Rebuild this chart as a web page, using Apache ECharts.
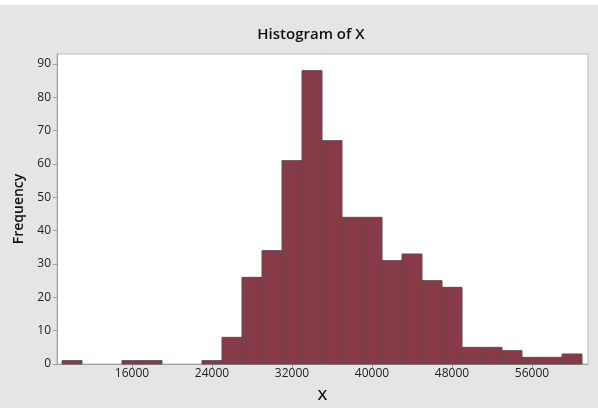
<!DOCTYPE html>
<html>
<head>
<meta charset="utf-8">
<script src="https://cdn.jsdelivr.net/npm/echarts@6/dist/echarts.min.js"></script>
<style>
html,body{margin:0;padding:0;background:#e5e5e5;}
#c{width:598px;height:408px;}
</style>
</head>
<body>
<div id="c"></div>
<script>
// Histogram bins (centres, width 2000) and counts
const binCenters = [10000, 12000, 14000, 16000, 18000, 20000, 22000, 24000, 26000, 28000, 30000, 32000, 34000, 36000, 38000, 40000, 42000, 44000, 46000, 48000, 50000, 52000, 54000, 56000, 58000, 60000];
const counts     = [1, 0, 0, 1, 1, 0, 0, 1, 8, 26, 34, 61, 88, 67, 44, 44, 31, 33, 25, 23, 5, 5, 4, 2, 2, 3];
const binWidth = 2000;
const xTickLabels = [16000, 24000, 32000, 40000, 48000, 56000];
const yTickLabels = [0, 10, 20, 30, 40, 50, 60, 70, 80, 90];

const data = binCenters.map((c, i) => [c - binWidth / 2, c + binWidth / 2, counts[i]]);

const chart = echarts.init(document.getElementById('c'));
const font = '"Open Sans", "Noto Sans", sans-serif';
chart.setOption({
  backgroundColor: '#e5e5e5',
  animation: false,
  title: {
    text: 'Histogram of X',
    left: 306, top: 22, textAlign: 'center',
    textStyle: {fontFamily: font, fontSize: 15, fontWeight: 600, color: '#111'}
  },
  grid: {
    left: 57, top: 54, right: 10, bottom: 44,
    show: true, backgroundColor: '#ffffff', borderColor: '#bdbdbd', borderWidth: 1
  },
  xAxis: {
    type: 'value', min: 8500, max: 61600,
    name: 'X', nameLocation: 'middle', nameGap: 24,
    nameTextStyle: {fontFamily: font, fontSize: 15, fontWeight: 600, color: '#111'},
    axisLine: {show: true, lineStyle: {color: '#a0a0a0'}},
    axisTick: {show: true, length: 4, customValues: xTickLabels, lineStyle: {color: '#a0a0a0'}},
    axisLabel: {customValues: xTickLabels, formatter: v => String(v), fontFamily: font, fontSize: 12, color: '#222', margin: 4},
    splitLine: {show: false}
  },
  yAxis: {
    type: 'value', min: 0, max: 93,
    name: 'Frequency', nameLocation: 'middle', nameGap: 31, nameRotate: 90,
    nameTextStyle: {fontFamily: font, fontSize: 14, fontWeight: 600, color: '#111'},
    axisLine: {show: true, lineStyle: {color: '#a0a0a0'}},
    axisTick: {show: true, length: 4, customValues: yTickLabels, lineStyle: {color: '#a0a0a0'}},
    axisLabel: {customValues: yTickLabels, formatter: v => String(v), fontFamily: font, fontSize: 12, color: '#222', margin: 6},
    splitLine: {show: false}
  },
  graphic: [{type: 'rect', shape: {x: 0, y: 0, width: 598, height: 5}, style: {fill: '#ffffff'}, silent: true}],
  series: [{
    type: 'custom',
    data: data,
    encode: {x: [0, 1], y: 2},
    renderItem: function (params, api) {
      if (!(api.value(2) > 0)) return null;
      const p0 = api.coord([api.value(0), 0]);
      const p1 = api.coord([api.value(1), api.value(2)]);
      return {
        type: 'rect',
        shape: {x: p0[0], y: p1[1], width: p1[0] - p0[0], height: p0[1] - p1[1]},
        style: {fill: '#873b49', stroke: '#5e4a50', lineWidth: 1}
      };
    }
  }]
});
</script>
</body>
</html>
